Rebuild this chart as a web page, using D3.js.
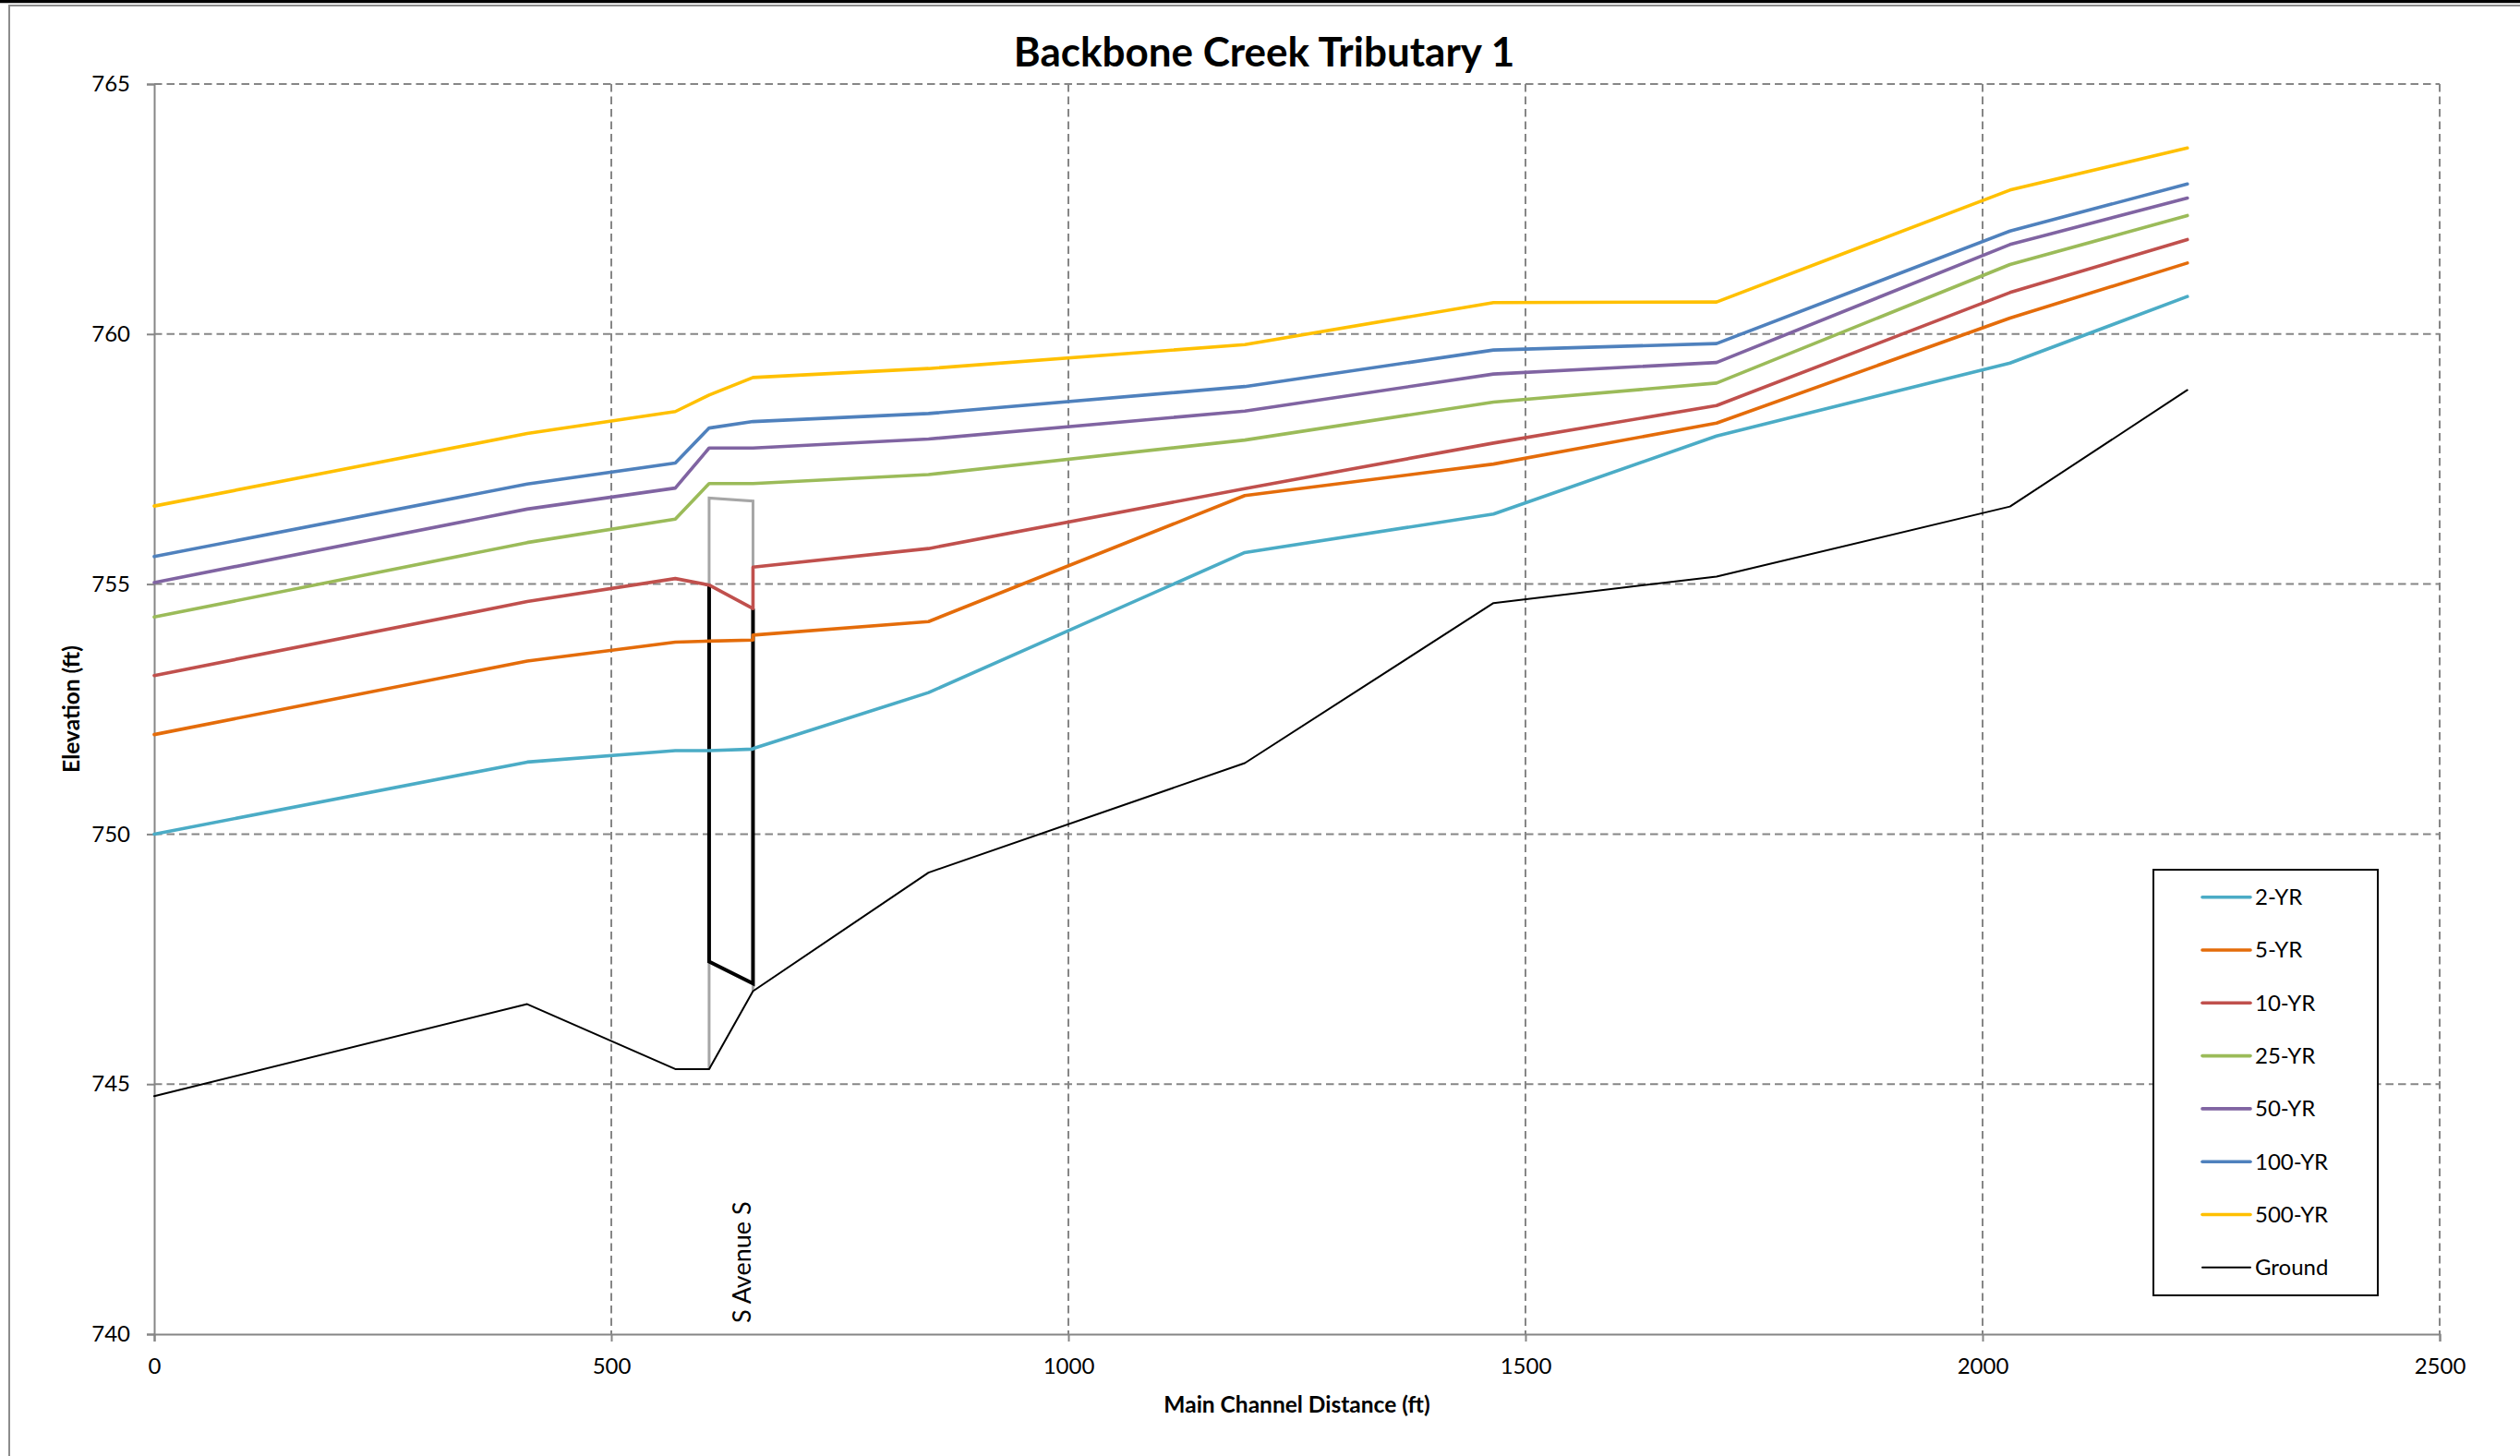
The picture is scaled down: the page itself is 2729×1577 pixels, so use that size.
<!DOCTYPE html>
<html><head><meta charset="utf-8">
<script src="https://cdnjs.cloudflare.com/ajax/libs/d3/7.8.5/d3.min.js"></script>
<style>html,body{margin:0;padding:0;background:#fff;} svg{display:block}</style>
</head><body><svg id="c" width="2729" height="1577"></svg>
<script>
// ---------------- data ----------------
const chartTitle = "Backbone Creek Tributary 1";
const xAxisTitle = "Main Channel Distance (ft)";
const yAxisTitle = "Elevation (ft)";
const xTicks = [0, 500, 1000, 1500, 2000, 2500];
const yTicks = [740, 745, 750, 755, 760, 765];

const stations = [0, 408, 570, 607, 655, 655, 847, 1193, 1465, 1709, 2030, 2224];
const seriesNames = ["2-YR", "5-YR", "10-YR", "25-YR", "50-YR", "100-YR", "500-YR", "Ground"];
const wsel2yr   = [750.00, 751.44, 751.67, 751.67, 751.70, 751.71, 752.83, 755.63, 756.40, 757.96, 759.42, 760.75];
const wsel5yr   = [751.99, 753.46, 753.84, 753.86, 753.88, 753.98, 754.25, 756.77, 757.40, 758.22, 760.32, 761.42];
const wsel10yr  = [753.17, 754.65, 755.11, 754.98, 754.51, 755.34, 755.71, 756.91, 757.82, 758.57, 760.83, 761.89];
const wsel25yr  = [754.34, 755.83, 756.30, 757.01, 757.01, 757.01, 757.19, 757.88, 758.64, 759.02, 761.39, 762.37];
const wsel50yr  = [755.03, 756.50, 756.92, 757.72, 757.72, 757.72, 757.90, 758.46, 759.20, 759.43, 761.79, 762.72];
const wsel100yr = [755.55, 757.00, 757.42, 758.12, 758.25, 758.25, 758.41, 758.95, 759.68, 759.81, 762.06, 763.00];
const wsel500yr = [756.56, 758.01, 758.45, 758.78, 759.13, 759.13, 759.31, 759.79, 760.63, 760.64, 762.88, 763.72];
const groundElev = [744.76, 746.60, 745.30, 745.30, 746.86, 746.86, 749.23, 751.42, 754.62, 755.15, 756.55, 758.88];

const bridgeName = "S Avenue S";
const bridgeDeckX = [607, 607, 655, 655];
const bridgeDeckY = [745.30, 756.72, 756.66, 746.86];
const lowChordX = [607, 607, 655, 655];
const lowChordY = [754.98, 747.45, 747.01, 754.51];

// ---------------- styles ----------------
const colors = ["#4BACC6", "#E46C0A", "#C0504D", "#9BBB59", "#8064A2", "#4F81BD", "#FFC000", "#000000"];
const widths = [3.6, 3.6, 3.6, 3.6, 3.6, 3.6, 3.6, 2];
const seriesValues = [wsel2yr, wsel5yr, wsel10yr, wsel25yr, wsel50yr, wsel100yr, wsel500yr, groundElev];
const FONT = "Lato, 'Open Sans', sans-serif";

const svg = d3.select("#c");
const W = 2729, H = 1577;
const plot = {left: 167, right: 2642, top: 91, bottom: 1445};

// outer frame
svg.append("rect").attr("x", 0).attr("y", 0).attr("width", W).attr("height", H).attr("fill", "#fff");
svg.append("line").attr("x1", 0).attr("x2", W).attr("y1", 1.5).attr("y2", 1.5)
  .attr("stroke", "#000").attr("stroke-width", 3.5);
svg.append("rect").attr("x", 10).attr("y", 6).attr("width", W + 100).attr("height", H + 100)
  .attr("fill", "none").attr("stroke", "#8c8c8c").attr("stroke-width", 2);

const x = d3.scaleLinear().domain([0, 2500]).range([plot.left, plot.right]);
const y = d3.scaleLinear().domain([740, 765]).range([plot.bottom, plot.top]);

// gridlines
const grid = svg.append("g").attr("stroke", "#868686").attr("stroke-width", 2).attr("stroke-dasharray", "8.5,5");
grid.selectAll(".hg").data(yTicks.filter(d => d > 740)).join("line")
  .attr("x1", plot.left).attr("x2", plot.right).attr("y1", d => y(d)).attr("y2", d => y(d));
grid.selectAll(".vg").data(xTicks.filter(d => d > 0)).join("line")
  .attr("y1", plot.top).attr("y2", plot.bottom).attr("x1", d => x(d)).attr("x2", d => x(d));

// axes
const yAxis = d3.axisLeft(y).tickValues(yTicks).tickSize(8).tickPadding(18).tickFormat(d3.format("d"));
const xAxis = d3.axisBottom(x).tickValues(xTicks).tickSize(8).tickPadding(18).tickFormat(d3.format("d"));
const gy = svg.append("g").attr("transform", `translate(${plot.left},0)`).call(yAxis);
const gx = svg.append("g").attr("transform", `translate(0,${plot.bottom})`).call(xAxis);
[gy, gx].forEach(g => {
  g.select(".domain").attr("stroke", "#868686").attr("stroke-width", 2);
  g.selectAll(".tick line").attr("stroke", "#868686").attr("stroke-width", 2);
  g.selectAll(".tick text").attr("fill", "#000").style("font-family", FONT).style("font-size", "24px");
});

// bridge deck (gray) and low chord (black)
const line = d3.line().x(d => x(d[0])).y(d => y(d[1]));
svg.append("path").attr("d", line(bridgeDeckX.map((v, i) => [v, bridgeDeckY[i]])))
  .attr("fill", "none").attr("stroke", "#A6A6A6").attr("stroke-width", 3);
svg.append("path").attr("d", line(lowChordX.map((v, i) => [v, lowChordY[i]])))
  .attr("fill", "none").attr("stroke", "#000").attr("stroke-width", 4);

// series
seriesValues.forEach((vals, k) => {
  svg.append("path").attr("d", line(stations.map((s, i) => [s, vals[i]])))
    .attr("fill", "none").attr("stroke", colors[k]).attr("stroke-width", widths[k])
    .attr("stroke-linejoin", "round").attr("stroke-linecap", "round");
});

// bridge label
svg.append("text").attr("transform", `translate(${x(655) - 2},${y(740) - 12}) rotate(-90)`)
  .style("font-family", FONT).style("font-size", "27px").attr("fill", "#000").text(bridgeName);

// titles
svg.append("text").attr("x", 1369).attr("y", 72).attr("text-anchor", "middle")
  .style("font-family", FONT).style("font-size", "44px").style("font-weight", "bold").text(chartTitle);
svg.append("text").attr("x", (plot.left + plot.right) / 2).attr("y", 1530).attr("text-anchor", "middle")
  .style("font-family", FONT).style("font-size", "24.5px").style("font-weight", "bold").text(xAxisTitle);
svg.append("text").attr("transform", `translate(86,${(plot.top + plot.bottom) / 2}) rotate(-90)`)
  .attr("text-anchor", "middle")
  .style("font-family", FONT).style("font-size", "24.5px").style("font-weight", "bold").text(yAxisTitle);

// legend
const lg = svg.append("g");
lg.append("rect").attr("x", 2332).attr("y", 942).attr("width", 243).attr("height", 461)
  .attr("fill", "#fff").attr("stroke", "#000").attr("stroke-width", 2);
seriesNames.forEach((n, i) => {
  const yy = 971.7 + i * 57.3;
  lg.append("line").attr("x1", 2385).attr("x2", 2437).attr("y1", yy).attr("y2", yy)
    .attr("stroke", colors[i]).attr("stroke-width", widths[i]).attr("stroke-linecap", "round");
  lg.append("text").attr("x", 2442).attr("y", yy).attr("dy", "0.35em")
    .style("font-family", FONT).style("font-size", "24px").text(n);
});
</script></body></html>
